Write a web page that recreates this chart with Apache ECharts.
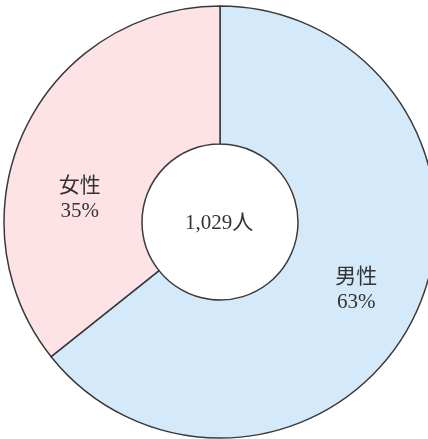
<!DOCTYPE html>
<html>
<head>
<meta charset="utf-8">
<script src="https://cdn.jsdelivr.net/npm/echarts@6/dist/echarts.min.js"></script>
<style>
  html, body { margin: 0; padding: 0; background: #fff; }
  #main { width: 428px; height: 439px; }
</style>
</head>
<body>
<div id="main"></div>
<script>
// data
var categories = ['男性', '女性'];
var percents = [63, 35];
var total = '1,029人';
var colors = ['#d4eafb', '#fde3e6'];

var FONT = "'Liberation Serif', 'DejaVu Serif', 'Noto Sans CJK JP', serif";

// label nudges so text sits like the original
var labelOffsets = [[1, 3], [-5, 42]];

var pieData = categories.map(function (c, i) {
  return {
    name: c,
    value: percents[i],
    itemStyle: { color: colors[i] },
    label: { offset: labelOffsets[i] }
  };
});

var myChart = echarts.init(document.getElementById('main'));
var option = {
  animation: false,
  graphic: [{
    type: 'text',
    x: 219,
    y: 223,
    silent: true,
    style: {
      text: total,
      align: 'center',
      verticalAlign: 'middle',
      font: '21px ' + FONT,
      fill: '#333'
    }
  }],
  series: [{
    type: 'pie',
    center: [220, 222],
    radius: [78, 216],
    startAngle: 90,
    clockwise: true,
    silent: true,
    data: pieData,
    itemStyle: { borderColor: '#3a3a3a', borderWidth: 1.5 },
    label: {
      show: true,
      position: 'inside',
      formatter: '{b}\n{c}%',
      fontFamily: FONT,
      fontSize: 21,
      lineHeight: 25,
      color: '#333'
    },
    labelLine: { show: false }
  }]
};
myChart.setOption(option);
window.onresize = myChart.resize;
</script>
</body>
</html>
